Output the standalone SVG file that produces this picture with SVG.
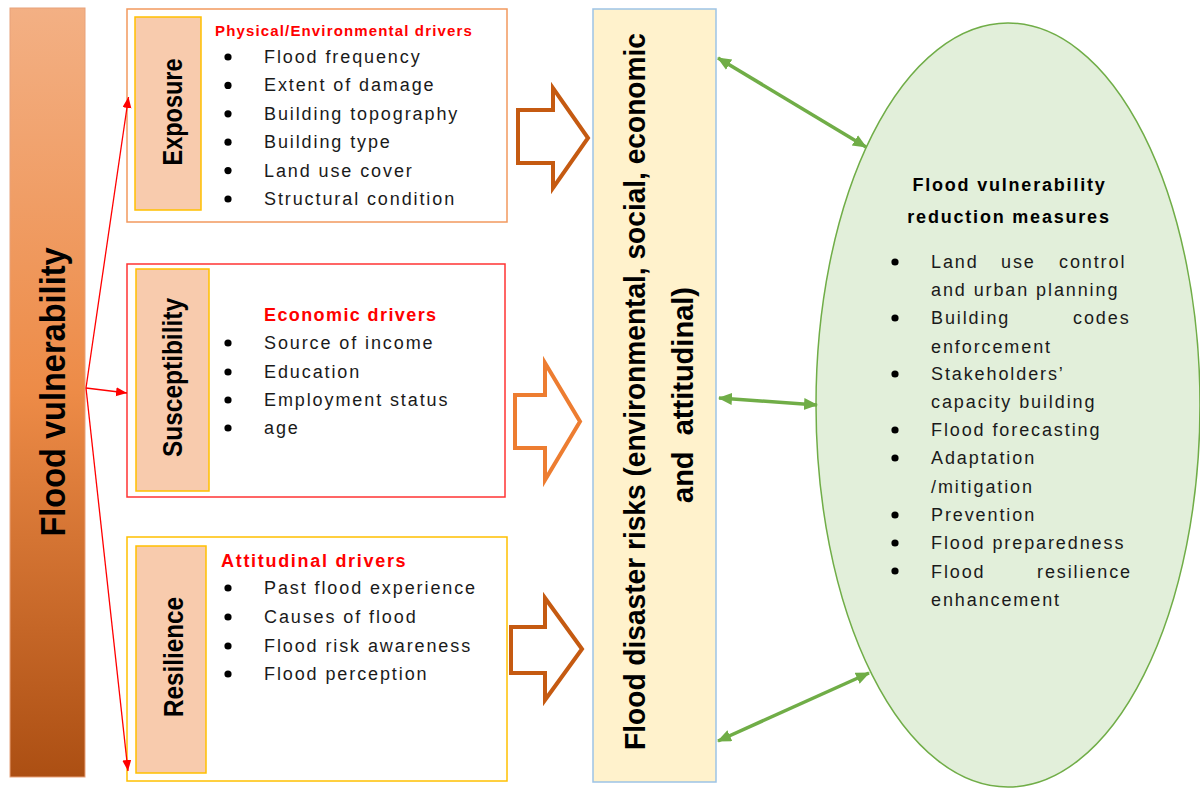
<svg xmlns="http://www.w3.org/2000/svg" width="1200" height="788" viewBox="0 0 1200 788">
<defs>
<linearGradient id="barGrad" x1="0" y1="0" x2="0" y2="1">
<stop offset="0" stop-color="#F3B084"/>
<stop offset="0.5" stop-color="#ED8B47"/>
<stop offset="1" stop-color="#AC4F13"/>
</linearGradient>
<marker id="redHead" markerUnits="userSpaceOnUse" markerWidth="12" markerHeight="10" refX="11" refY="4.5" orient="auto">
<path d="M0,0 L11,4.5 L0,9 z" fill="#FF0000"/>
</marker>
<marker id="greenHead" markerUnits="userSpaceOnUse" markerWidth="16" markerHeight="14" refX="13" refY="6" orient="auto-start-reverse">
<path d="M0,0 L14,6 L0,12 z" fill="#70AD47"/>
</marker>
<style>
.list{font-family:"Liberation Sans",Arial,sans-serif;font-size:18px;fill:#1a1a1a;letter-spacing:1.9px}
.hdr{font-family:"Liberation Sans",Arial,sans-serif;font-weight:bold;fill:#FF0000}
.lbl{font-family:"Liberation Sans",Arial,sans-serif;font-weight:bold;fill:#000}
.inner{fill:#F8CBAD;stroke:#FFC000;stroke-width:1.5}
.blk{fill:#fff;stroke-width:4;stroke-linejoin:miter}
.red{stroke:#FF0000;stroke-width:1.3;fill:none;marker-end:url(#redHead)}
.grn{stroke:#70AD47;stroke-width:3.5;fill:none;marker-start:url(#greenHead);marker-end:url(#greenHead)}
.dot{fill:#000}
</style>
</defs>

<g id="flood-vulnerability">
<rect x="10" y="8" width="75" height="769" fill="url(#barGrad)" stroke="#E8A27A" stroke-width="1"/>
<text class="lbl" transform="translate(65,392) rotate(-90) scale(0.93,1)" text-anchor="middle" font-size="35">Flood vulnerability</text>
</g>

<g id="exposure">
<rect x="127" y="9" width="380" height="213" fill="#fff" stroke="#F2995E" stroke-width="1.5"/>
<rect class="inner" x="135" y="17" width="66" height="193"/>
<text class="lbl" transform="translate(182,112) rotate(-90)" text-anchor="middle" font-size="28" textLength="107" lengthAdjust="spacingAndGlyphs">Exposure</text>
<text class="hdr" x="215" y="36" font-size="15" letter-spacing="1.15">Physical/Environmental  drivers</text>
<circle class="dot" cx="228" cy="57" r="3.6"/>
<circle class="dot" cx="228" cy="85.4" r="3.6"/>
<circle class="dot" cx="228" cy="113.8" r="3.6"/>
<circle class="dot" cx="228" cy="142.2" r="3.6"/>
<circle class="dot" cx="228" cy="170.6" r="3.6"/>
<circle class="dot" cx="228" cy="199" r="3.6"/>
<text class="list" x="264" y="63">Flood frequency</text>
<text class="list" x="264" y="91.4">Extent of damage</text>
<text class="list" x="264" y="119.8">Building topography</text>
<text class="list" x="264" y="148.2">Building type</text>
<text class="list" x="264" y="176.6">Land use cover</text>
<text class="list" x="264" y="205">Structural condition</text>
</g>

<g id="susceptibility">
<rect x="127" y="264" width="378" height="233" fill="#fff" stroke="#FF3333" stroke-width="1.5"/>
<rect class="inner" x="136" y="269" width="73" height="222"/>
<text class="lbl" transform="translate(182,377.5) rotate(-90)" text-anchor="middle" font-size="28" textLength="159" lengthAdjust="spacingAndGlyphs">Susceptibility</text>
<text class="hdr" x="264" y="321" font-size="18" letter-spacing="1.4">Economic drivers</text>
<circle class="dot" cx="228" cy="343" r="3.6"/>
<circle class="dot" cx="228" cy="372" r="3.6"/>
<circle class="dot" cx="228" cy="400" r="3.6"/>
<circle class="dot" cx="228" cy="428" r="3.6"/>
<text class="list" x="264" y="349">Source of income</text>
<text class="list" x="264" y="378">Education</text>
<text class="list" x="264" y="406" letter-spacing="2.2">Employment status</text>
<text class="list" x="264" y="434">age</text>
</g>

<g id="resilience">
<rect x="127" y="537" width="380" height="244" fill="#fff" stroke="#FFC000" stroke-width="1.5"/>
<rect class="inner" x="136" y="546" width="70" height="227"/>
<text class="lbl" transform="translate(183,657) rotate(-90)" text-anchor="middle" font-size="28" textLength="120" lengthAdjust="spacingAndGlyphs">Resilience</text>
<text class="hdr" x="221" y="567" font-size="18" letter-spacing="1.7">Attitudinal drivers</text>
<circle class="dot" cx="228" cy="588" r="3.6"/>
<circle class="dot" cx="228" cy="617" r="3.6"/>
<circle class="dot" cx="228" cy="646" r="3.6"/>
<circle class="dot" cx="228" cy="674" r="3.6"/>
<text class="list" x="264" y="594">Past flood experience</text>
<text class="list" x="264" y="623">Causes of flood</text>
<text class="list" x="264" y="652">Flood risk awareness</text>
<text class="list" x="264" y="680">Flood perception</text>
</g>

<g id="block-arrows">
<polygon class="blk" stroke="#C55A11" points="518,110 553,110 553,88 588,138 553,188 553,163 518,163"/>
<polygon class="blk" stroke="#ED7D31" points="515,395 545,395 545,363 580,421.5 545,480 545,448 515,448"/>
<polygon class="blk" stroke="#C55A11" points="511,627 545,627 545,598 582,649 545,700 545,673 511,673"/>
</g>

<g id="flood-disaster-risks">
<rect x="593" y="9" width="123" height="773" fill="#FFF2CC" stroke="#9DC3E6" stroke-width="1.5"/>
<text class="lbl" transform="translate(645,391.5) rotate(-90) scale(0.937,1)" text-anchor="middle" font-size="30">Flood disaster risks (environmental, social, economic</text>
<text class="lbl" transform="translate(693,395) rotate(-90)" text-anchor="middle" font-size="30" textLength="216" lengthAdjust="spacingAndGlyphs">and&#160; attitudinal)</text>
</g>

<g id="reduction-measures">
<ellipse cx="1008" cy="405" rx="192" ry="382" fill="#E2EFDA" stroke="#70AD47" stroke-width="1.5"/>
<text class="lbl" x="1009.5" y="191" text-anchor="middle" font-size="18" letter-spacing="1.8">Flood vulnerability</text>
<text class="lbl" x="1009" y="223" text-anchor="middle" font-size="18" letter-spacing="1.8">reduction measures</text>
<circle class="dot" cx="895" cy="262" r="3.6"/>
<circle class="dot" cx="895" cy="318" r="3.6"/>
<circle class="dot" cx="895" cy="374" r="3.6"/>
<circle class="dot" cx="895" cy="430" r="3.6"/>
<circle class="dot" cx="895" cy="458" r="3.6"/>
<circle class="dot" cx="895" cy="515" r="3.6"/>
<circle class="dot" cx="895" cy="543" r="3.6"/>
<circle class="dot" cx="895" cy="571" r="3.6"/>
<text class="list" y="268"><tspan x="931">Land</tspan><tspan x="1001">use</tspan><tspan x="1059">control</tspan></text>
<text class="list" x="931" y="296">and urban planning</text>
<text class="list" y="324"><tspan x="931">Building</tspan><tspan x="1073">codes</tspan></text>
<text class="list" x="931" y="353">enforcement</text>
<text class="list" x="931" y="380">Stakeholders’</text>
<text class="list" x="931" y="408">capacity building</text>
<text class="list" x="931" y="436">Flood forecasting</text>
<text class="list" x="931" y="464">Adaptation</text>
<text class="list" x="931" y="493">/mitigation</text>
<text class="list" x="931" y="521">Prevention</text>
<text class="list" x="931" y="549">Flood preparedness</text>
<text class="list" y="578"><tspan x="931">Flood</tspan><tspan x="1037">resilience</tspan></text>
<text class="list" x="931" y="606">enhancement</text>
</g>

<g id="connectors">
<line class="red" x1="86" y1="388" x2="128.5" y2="97"/>
<line class="red" x1="86" y1="388" x2="127" y2="393"/>
<line class="red" x1="86" y1="388" x2="128" y2="771"/>
<line class="grn" x1="718" y1="58" x2="866" y2="147"/>
<line class="grn" x1="719" y1="398" x2="817" y2="405"/>
<line class="grn" x1="718" y1="741" x2="869" y2="673"/>
</g>
</svg>
